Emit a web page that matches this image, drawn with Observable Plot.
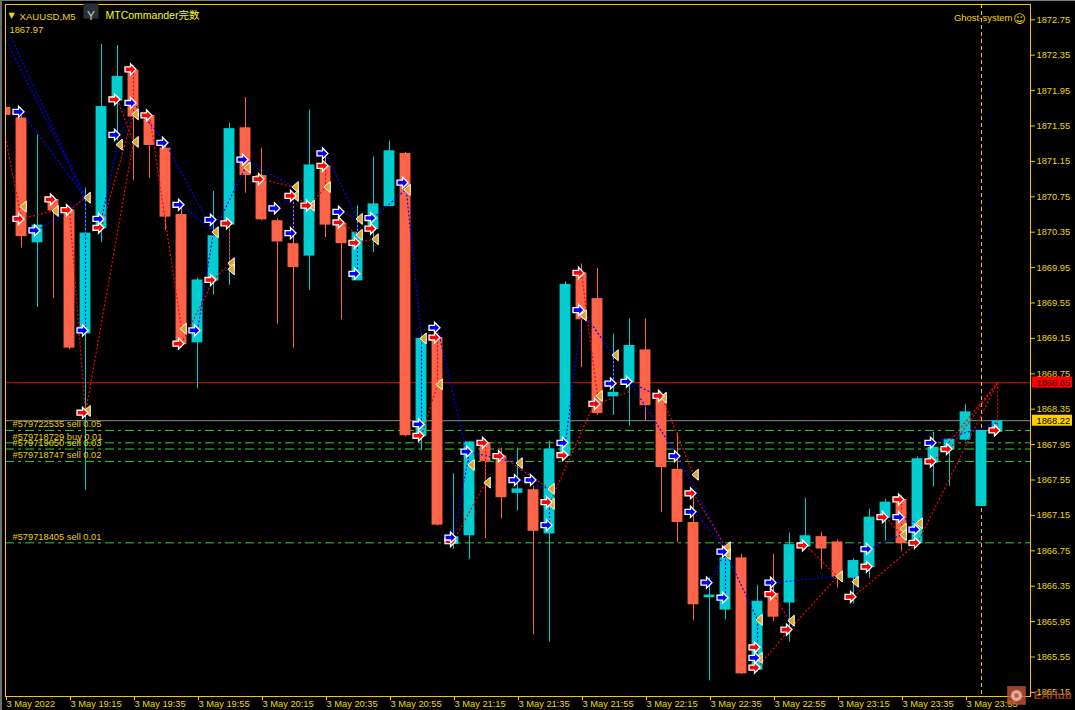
<!DOCTYPE html>
<html><head><meta charset="utf-8">
<script src="https://cdn.jsdelivr.net/npm/d3@7"></script>
<script src="https://cdn.jsdelivr.net/npm/@observablehq/plot@0.6"></script>
<style>
html,body{margin:0;padding:0;background:#000;}
#wrap{position:relative;width:1075px;height:710px;overflow:hidden;background:#000;}
#bt{position:absolute;left:0;top:0;width:1075px;height:1px;background:#7a7a7a;}
#bl{position:absolute;left:0;top:0;width:2px;height:710px;background:#6e6e6e;}
</style></head><body><div id="wrap"></div>
<script>
// ---------- data ----------
const times = ["18:55","19:00","19:05","19:10","19:15","19:20","19:25","19:30","19:35","19:40","19:45","19:50","19:55",
"20:00","20:05","20:10","20:15","20:20","20:25","20:30","20:35","20:40","20:45","20:50","20:55",
"21:00","21:05","21:10","21:15","21:20","21:25","21:30","21:35","21:40","21:45","21:50","21:55",
"22:00","22:05","22:10","22:15","22:20","22:25","22:30","22:35","22:40","22:45","22:50","22:55",
"23:00","23:05","23:10","23:15","23:20","23:25","23:30","23:35","23:40","23:45","23:50","23:55","00:00","00:05"];
const open  = [1871.76,1871.64,1870.23,1870.72,1870.60,1869.20,1870.39,1871.83,1872.18,1871.67,1871.30,1870.55,1869.10,
1869.80,1870.43,1871.53,1870.99,1870.48,1870.22,1870.08,1871.10,1870.45,1869.80,1870.38,1870.64,
1871.24,1868.04,1869.16,1866.82,1866.92,1867.97,1867.82,1867.40,1867.44,1866.94,1867.82,1869.89,
1869.60,1868.49,1868.65,1869.02,1868.50,1867.67,1867.07,1866.22,1866.08,1866.67,1865.40,1866.27,
1866.16,1866.79,1866.91,1866.85,1866.44,1866.56,1867.12,1867.33,1866.83,1867.74,1867.89,1868.00,1867.25,1868.09];
const high  = [1872.10,1871.66,1871.45,1870.76,1870.62,1870.85,1872.47,1872.46,1872.23,1871.69,1871.33,1870.65,1869.83,
1870.81,1871.58,1871.87,1871.30,1870.50,1870.78,1871.73,1871.21,1870.48,1870.65,1871.20,1871.38,
1871.25,1869.20,1869.20,1867.62,1867.98,1868.01,1867.91,1867.91,1867.48,1867.99,1869.79,1869.99,
1869.94,1869.20,1869.37,1869.37,1868.52,1868.08,1867.39,1866.44,1866.78,1866.71,1866.36,1866.71,
1866.95,1867.34,1866.96,1866.87,1866.66,1867.22,1867.33,1867.37,1867.81,1868.09,1868.02,1868.40,1868.11,1868.23];
const low   = [1871.42,1870.17,1869.50,1869.60,1869.02,1867.43,1870.23,1871.38,1870.93,1870.96,1870.37,1869.05,1868.58,
1869.64,1869.75,1870.79,1870.48,1869.31,1869.04,1869.69,1870.29,1869.36,1869.80,1870.12,1870.64,
1868.04,1867.88,1867.03,1866.77,1866.65,1866.89,1867.11,1867.20,1865.80,1865.72,1867.82,1868.82,
1868.28,1868.28,1868.16,1868.22,1867.18,1866.84,1865.96,1865.28,1865.97,1865.35,1865.38,1865.95,
1865.72,1866.78,1866.54,1866.33,1866.15,1866.44,1866.86,1866.74,1866.82,1867.47,1867.48,1867.99,1867.25,1868.08];
const close = [1871.67,1870.30,1870.43,1870.59,1869.04,1870.34,1871.77,1872.11,1871.65,1871.33,1870.52,1869.08,1869.81,
1870.31,1871.52,1870.99,1870.49,1870.24,1869.95,1871.11,1870.43,1870.22,1870.35,1870.67,1871.27,
1868.05,1869.15,1867.04,1866.91,1867.98,1867.76,1867.35,1867.45,1866.97,1867.90,1869.76,1869.36,
1868.30,1868.54,1869.07,1868.39,1867.69,1867.07,1866.14,1866.25,1866.67,1865.36,1866.18,1866.00,
1866.82,1866.92,1866.77,1866.45,1866.64,1867.13,1867.30,1866.83,1867.79,1867.92,1868.01,1868.32,1868.11,1868.22];

const yTicks = [1865.15,1865.55,1865.95,1866.35,1866.75,1867.15,1867.55,1867.95,1868.35,1868.75,
                1869.15,1869.55,1869.95,1870.35,1870.75,1871.15,1871.55,1871.95,1872.35,1872.75];
const xTickTimes  = ["18:55","19:15","19:35","19:55","20:15","20:35","20:55","21:15","21:35","21:55","22:15","22:35","22:55","23:15","23:35","23:55"];
const xTickLabels = ["3 May 2022","3 May 19:15","3 May 19:35","3 May 19:55","3 May 20:15","3 May 20:35","3 May 20:55","3 May 21:15",
                     "3 May 21:35","3 May 21:55","3 May 22:15","3 May 22:35","3 May 22:55","3 May 23:15","3 May 23:35","3 May 23:55"];
const daySeparator = ["00:00"];

const orderPrices = [1868.11,1867.97,1867.90,1867.76,1866.84];
const orderLabels = ["#579722535 sell 0.05","#579718729 buy 0.01","#579719050 sell 0.03","#579718747 sell 0.02","#579718405 sell 0.01"];
const bidPrice = 1868.22;
const redLevel = 1868.65;
const lastBarPrice = 1867.97;

// trade marks: [bar index, price]
const redArrows = [[1,1870.50],[3,1870.72],[4,1870.60],[5,1868.31],[6,1870.40],[7,1871.85],[8,1872.19],[9,1871.67],[11,1869.09],[13,1869.81],
[14,1870.45],[16,1870.95],[18,1870.76],[19,1870.65],[20,1871.10],[21,1870.46],[22,1870.23],[23,1870.39],[26,1868.05],[27,1869.16],
[28,1866.86],[30,1867.97],[31,1867.82],[34,1867.30],[35,1867.83],[36,1869.89],[37,1868.41],[41,1868.50],[43,1867.40],[47,1865.66],
[47,1865.43],[48,1866.26],[49,1865.86],[50,1866.81],[53,1866.23],[54,1866.57],[55,1867.13],[56,1867.33],[57,1866.84],[58,1867.76],
[59,1867.90],[62,1868.11]];
const blueArrows = [[1,1871.71],[2,1870.37],[5,1869.24],[6,1870.50],[7,1871.45],[8,1871.81],[10,1871.36],[11,1870.66],[12,1869.24],[13,1870.49],
[15,1871.17],[17,1870.62],[18,1870.34],[20,1871.24],[21,1870.58],[22,1869.88],[23,1870.51],[25,1870.91],[26,1868.18],[27,1869.27],
[28,1866.90],[29,1867.87],[32,1867.55],[33,1867.55],[34,1867.04],[35,1867.97],[36,1869.47],[38,1868.64],[39,1868.66],[42,1867.82],
[43,1867.19],[44,1866.39],[45,1866.74],[45,1866.22],[47,1865.54],[48,1866.39],[54,1866.77],[56,1867.13],[57,1866.99],[58,1867.97]];
const goldTris = [[1,1870.64],[3,1870.59],[5,1870.74],[5,1868.33],[7,1871.34],[8,1871.68],[8,1871.37],[11,1869.26],[13,1870.35],[14,1870.00],
[14,1869.93],[15,1871.08],[18,1870.86],[18,1870.76],[19,1870.65],[20,1870.86],[22,1870.50],[22,1870.32],[23,1870.27],[25,1870.83],
[26,1869.15],[27,1868.63],[29,1867.72],[30,1867.52],[32,1867.74],[34,1867.45],[34,1867.28],[36,1869.41],[37,1868.50],[38,1868.96],
[41,1868.48],[43,1867.61],[45,1866.79],[45,1866.71],[47,1865.97],[47,1865.54],[49,1865.96],[52,1866.46],[53,1866.40],[56,1867.00],
[56,1866.93],[57,1867.06]];

// trade connection segments: [bar1, price1, bar2, price2]
const blueSegs = [[-1.1,1872.92,5,1870.74],[-0.6,1872.92,5,1870.74],[1,1871.71,5,1870.74],[2,1870.37,5,1870.74],[5,1870.74,5,1869.24],
[6,1870.50,7,1871.34],[7,1871.45,8,1871.68],[8,1871.81,10,1871.36],[10,1871.36,13,1870.35],[11,1870.66,13,1870.35],
[12,1869.24,13,1870.35],[13,1870.35,15,1871.08],[15,1871.17,18,1870.86],[17,1870.62,18,1870.76],[18,1870.76,18,1870.34],
[20,1871.24,22,1870.50],[21,1870.58,22,1870.50],[22,1870.50,22,1869.88],[23,1870.51,25,1870.83],[25,1870.91,26,1869.15],
[26,1869.15,26,1868.18],[27,1869.27,29,1867.72],[28,1866.90,29,1867.87],[29,1867.87,32,1867.74],[32,1867.55,34,1867.45],
[34,1867.28,34,1867.04],[35,1867.97,36,1869.41],[36,1869.47,38,1868.96],[38,1868.96,38,1868.64],[39,1868.66,41,1868.48],
[39,1868.66,42,1867.82],[42,1867.82,45,1866.79],[43,1867.19,45,1866.79],[45,1866.79,45,1866.22],[44,1866.39,45,1866.74],
[45,1866.74,47,1865.97],[47,1865.97,47,1865.54],[48,1866.39,52,1866.46],[54,1866.77,56,1866.93],[56,1867.13,57,1867.06],
[58,1867.97,62,1868.20]];
const redSegs = [[-0.2,1871.60,1,1870.50],[1,1870.50,3,1870.59],[4,1870.60,5,1870.74],[4,1870.60,5,1868.31],[5,1868.31,8,1871.37],
[6,1870.40,8,1871.68],[7,1871.85,8,1871.37],[8,1872.19,8,1871.68],[9,1871.67,11,1869.26],[11,1869.09,13,1869.81],
[13,1869.81,14,1870.00],[14,1870.45,14,1870.00],[16,1870.95,18,1870.86],[18,1870.76,19,1870.65],[19,1870.65,20,1870.86],
[20,1871.10,20,1870.86],[21,1870.46,22,1870.32],[22,1870.23,23,1870.27],[27,1869.16,27,1868.63],[26,1868.05,27,1868.63],
[28,1866.86,30,1867.52],[30,1867.97,30,1867.52],[31,1867.82,34,1867.45],[34,1867.28,37,1868.50],[36,1869.89,37,1868.50],
[37,1868.41,39,1868.55],[41,1868.50,43,1867.61],[43,1867.40,45,1866.79],[47,1865.43,49,1865.86],[49,1865.86,52,1866.46],
[53,1866.23,57,1866.84],[57,1866.84,62,1868.65],[48,1866.26,49,1865.96],[50,1866.81,52,1866.46],[55,1867.13,56,1866.93],
[56,1867.33,56,1867.00],[58,1867.76,62,1868.65],[59,1867.90,62,1868.65],[62,1868.65,62,1868.11]];

// ---------- build ----------
const W = 1075, H = 710, mL = 5, mR = 45, mT = 4, mB = 14;
const PX_PER_BAR = 16, PX_PER_UNIT = 88.5;
const xDomain = [0, (W - mL - mR) / PX_PER_BAR];
const yTop = 1872.75 + 15.3 / PX_PER_UNIT;
const yBottom = yTop - (H - mT - mB) / PX_PER_UNIT;

const candles = times.map((t, i) => ({i, t, o: open[i], h: high[i], l: low[i], c: close[i]}));
const bull = candles.filter(d => d.c >= d.o);
const bear = candles.filter(d => d.c < d.o);
const tickIdx = xTickTimes.map(t => times.indexOf(t));
const tickLabel = new Map(tickIdx.map((k, j) => [k, xTickLabels[j]]));
const sepIdx = daySeparator.map(t => times.indexOf(t));
const orders = orderPrices.map((p, j) => ({p, label: orderLabels[j]}));
const tags = [{p: redLevel, bg: "#ff0000", fg: "#3a0000"}, {p: bidPrice, bg: "#ffd000", fg: "#000000"}];
const xEnd = xDomain[1];

const arrowSym = {draw(ctx, size) { const r = Math.sqrt(size / Math.PI);
  ctx.moveTo(-r, -0.45 * r); ctx.lineTo(0, -0.45 * r); ctx.lineTo(0, -r); ctx.lineTo(r, 0);
  ctx.lineTo(0, r); ctx.lineTo(0, 0.45 * r); ctx.lineTo(-r, 0.45 * r); ctx.closePath(); }};
const triSym = {draw(ctx, size) { const r = Math.sqrt(size / Math.PI);
  ctx.moveTo(0.5 * r, -r); ctx.lineTo(-0.65 * r, 0); ctx.lineTo(0.5 * r, r); ctx.closePath(); }};

const TXT = "#f0d800", FRAME = "#ffc000", BULL = "#00ced1", BEAR = "#ff6347";
const FONT = "'Liberation Sans', Arial, 'Noto Sans CJK SC', 'DejaVu Sans', sans-serif";
const seg = {x1: d => d[0], y1: d => d[1], x2: d => d[2], y2: d => d[3]};

const chart = Plot.plot({
  width: W, height: H,
  marginLeft: mL, marginRight: mR, marginTop: mT, marginBottom: mB,
  x: {type: "linear", domain: xDomain, axis: null},
  y: {type: "linear", domain: [yBottom, yTop], axis: null},
  style: {background: "#000", color: TXT, fontFamily: FONT, fontSize: "9.3px", overflow: "visible"},
  marks: [
    // order lines & price lines
    Plot.ruleY(orderPrices, {stroke: "#32cd32", strokeDasharray: "9,4,3,4"}),
    Plot.ruleY([bidPrice], {stroke: "#8c8c8c"}),
    Plot.ruleY([redLevel], {stroke: "#e00000"}),
    Plot.ruleX(sepIdx, {stroke: FRAME, strokeDasharray: "4,3"}),
    // candles
    Plot.ruleX(bull, {x: "i", y1: "l", y2: "h", stroke: BULL, clip: true}),
    Plot.ruleX(bear, {x: "i", y1: "l", y2: "h", stroke: BEAR, clip: true}),
    Plot.rect(bull, {x1: d => d.i - 0.34, x2: d => d.i + 0.34, y1: "o", y2: "c", fill: BULL, clip: true}),
    Plot.rect(bear, {x1: d => d.i - 0.34, x2: d => d.i + 0.34, y1: "o", y2: "c", fill: BEAR, clip: true}),
    // trade connectors
    Plot.link(blueSegs, {...seg, stroke: "#0000ff", strokeWidth: 1.2, strokeDasharray: "2,2", clip: true}),
    Plot.link(redSegs, {...seg, stroke: "#ff0000", strokeWidth: 1.2, strokeDasharray: "2,2", clip: true}),
    // trade markers
    Plot.dot(goldTris, {x: d => d[0], y: d => d[1], symbol: triSym, r: 5.5, dx: 2, fill: "#daa520", stroke: "#ffffff", strokeWidth: 1, clip: true}),
    Plot.dot(redArrows, {x: d => d[0], y: d => d[1], symbol: arrowSym, r: 5.5, dx: -3, fill: "#ff0000", stroke: "#ffffff", strokeWidth: 1.3, clip: true}),
    Plot.dot(blueArrows, {x: d => d[0], y: d => d[1], symbol: arrowSym, r: 5.5, dx: -3, fill: "#0000ff", stroke: "#ffffff", strokeWidth: 1.3, clip: true}),
    // order labels
    Plot.text(orders, {x: () => 0, y: "p", text: "label", dx: 7, dy: -6, textAnchor: "start", fill: "#e8d000", fontSize: 9.3}),
    // frame & axes
    Plot.frame({stroke: FRAME}),
    Plot.axisY(yTicks, {anchor: "right", tickSize: 4, tickPadding: 2, tickFormat: d => d.toFixed(2), stroke: FRAME, fill: TXT, fontSize: 9.3, label: null}),
    Plot.axisX(tickIdx, {anchor: "bottom", tickSize: 4, tickPadding: 0, tickFormat: d => tickLabel.get(d), textAnchor: "start", dx: 1, stroke: FRAME, fill: TXT, fontSize: 9.3, label: null}),
    // price tags on the axis
    Plot.rect(tags, {x1: () => xEnd, x2: () => xEnd, y1: "p", y2: "p", insetLeft: 2, insetRight: -42, insetTop: -5.5, insetBottom: -5.5, fill: "bg"}),
    Plot.text(tags, {x: () => xEnd, y: "p", text: d => d.p.toFixed(2), dx: 6, textAnchor: "start", fill: "fg", fontSize: 9.3}),
    // header
    Plot.text(["▼"], {frameAnchor: "top-left", dx: 6, dy: 8, text: d => d, fontSize: 8, fill: TXT, textAnchor: "middle", fontFamily: "'DejaVu Sans', sans-serif"}),
    Plot.text(["XAUUSD,M5"], {frameAnchor: "top-left", dx: 14, dy: 8.5, text: d => d, fill: TXT, fontSize: 9.6, textAnchor: "start"}),
    Plot.dot([0], {frameAnchor: "top-left", dx: 85.5, dy: 6.5, symbol: "square", r: 8.5, fill: "#2c3139"}),
    Plot.text(["Y"], {frameAnchor: "top-left", dx: 85.5, dy: 6.5, text: d => d, fill: "#c8ccd2", fontSize: 12, textAnchor: "middle"}),
    Plot.text(["MTCommander完数"], {frameAnchor: "top-left", dx: 100, dy: 7, text: d => d, fill: "#ffff00", fontSize: 10.5, textAnchor: "start"}),
    Plot.text([lastBarPrice], {frameAnchor: "top-left", dx: 4, dy: 22, text: d => d.toFixed(2), fill: TXT, fontSize: 9.3, textAnchor: "start"}),
    Plot.text(["Ghost-system"], {frameAnchor: "top-right", dx: -18, dy: 10, text: d => d, fill: TXT, fontSize: 9.5, textAnchor: "end"}),
    Plot.text(["☺"], {frameAnchor: "top-right", dx: -11, dy: 10, text: d => d, fill: TXT, fontSize: 12, textAnchor: "middle", fontFamily: "'DejaVu Sans', sans-serif"}),
    // watermark
    Plot.dot([0], {frameAnchor: "bottom-right", dx: -14, dy: -1, symbol: "square", r: 10.5, fill: "#c4553a", fillOpacity: 0.8}),
    Plot.dot([0], {frameAnchor: "bottom-right", dx: -14, dy: -1, r: 5.5, fill: "#e8c8c0", fillOpacity: 0.8}),
    Plot.dot([0], {frameAnchor: "bottom-right", dx: -14, dy: -1, symbol: "square", r: 2.2, fill: "#c4553a"}),
    Plot.text(["EAHub"], {frameAnchor: "bottom-right", dx: 3, dy: 2, text: d => d, fill: "#b4462c", fillOpacity: 0.85, fontSize: 11.5, fontWeight: "bold", textAnchor: "start"})
  ]
});

const wrap = document.getElementById("wrap");
wrap.appendChild(chart);
const bt = document.createElement("div"); bt.id = "bt"; wrap.appendChild(bt);
const bl = document.createElement("div"); bl.id = "bl"; wrap.appendChild(bl);
</script>
</body></html>
